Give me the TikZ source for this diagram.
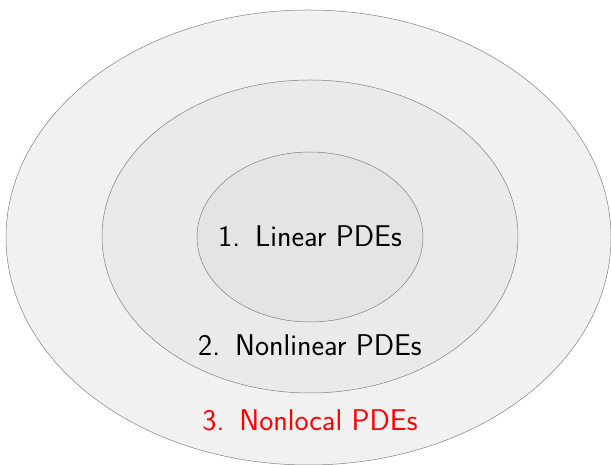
\documentclass[tikz,border=0pt]{standalone}
\usepackage{tikz}

\definecolor{ringout}{gray}{0.945}
\definecolor{ringmid}{gray}{0.918}
\definecolor{ringin}{gray}{0.894}

\begin{document}
\begin{tikzpicture}[x=1pt,y=1pt]
          \tikzset{ring/.style = {draw=gray, line width=0.5pt}}
          \tikzset{pdelabel/.style = {anchor=base, inner sep=0pt,
                   font=\fontsize{30}{36}\selectfont\sffamily}}

          \useasboundingbox (0,0) rectangle (611,465);

          \draw[ring, fill=ringout] (308.5,227.5) ellipse (302.5 and 227.5);
          \draw[ring, fill=ringmid] (310,228.5) ellipse (208 and 156.5);
          \draw[ring, fill=ringin] (310,228) ellipse (113 and 85);

          \node[pdelabel] (linear) at (310,218.3) {1.\hspace{0.5em}Linear PDEs};
          \node[pdelabel] (nonlinear) at (310,109) {2.\hspace{0.5em}Nonlinear PDEs};
          \node[pdelabel, text=red] (nonlocal) at (310,34) {3.\hspace{0.5em}Nonlocal PDEs};
        \end{tikzpicture}
\end{document}
